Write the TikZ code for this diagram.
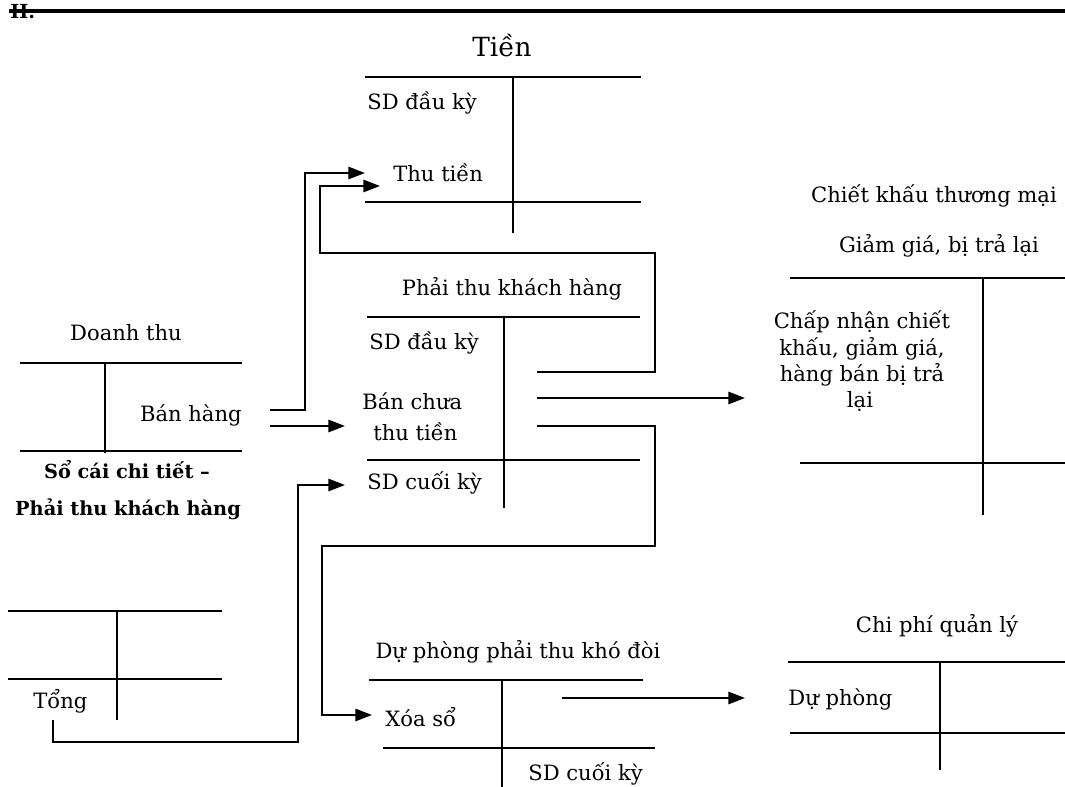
\documentclass[tikz,border=0pt]{standalone}
\usepackage{fontspec}
\setmainfont{DejaVu Serif}
\usetikzlibrary{arrows.meta}
\begin{document}
\begin{tikzpicture}[x=0.02cm,y=-0.02cm,
  acc/.style={line width=1.1pt},
  arr/.style={line width=1.1pt,-{Triangle[length=9.5pt,width=7pt]}},
  lbl/.style={inner sep=0pt,font=\fontsize{12}{14}\selectfont},
  ttl/.style={inner sep=0pt,font=\fontsize{15}{18}\selectfont},
  bld/.style={inner sep=0pt,font=\fontsize{11}{13}\selectfont\bfseries}]
\useasboundingbox (0,0) rectangle (1065,787);
% header
\node[bld,anchor=base west] (hdr) at (10,19) {II.};
\draw[line width=1.8pt] (9,11) -- (1065,11);
% ---- Tien
\node[ttl,anchor=base] (tien) at (502,57) {Tiền};
\draw[acc] (365,77) -- (641,77);
\draw[acc] (365,202) -- (641,202);
\draw[acc] (513,77) -- (513,233);
\node[lbl,anchor=base west] (tsd) at (367,110) {SD đầu kỳ};
\node[lbl,anchor=base west] (tthu) at (393,182) {Thu tiền};
% ---- Phai thu khach hang
\node[lbl,anchor=base] (ptkh) at (512,296) {Phải thu khách hàng};
\draw[acc] (367,317) -- (640,317);
\draw[acc] (367,460) -- (640,460);
\draw[acc] (504,317) -- (504,508);
\node[lbl,anchor=base west] (psd) at (369,349) {SD đầu kỳ};
\node[lbl,anchor=base west] (pban1) at (362,409) {Bán chưa};
\node[lbl,anchor=base west] (pban2) at (373,440) {thu tiền};
\node[lbl,anchor=base west] (pcuoi) at (367,489) {SD cuối kỳ};
% ---- Doanh thu
\node[lbl,anchor=base] (dt) at (126,340) {Doanh thu};
\draw[acc] (20,363) -- (242,363);
\draw[acc] (20,451) -- (242,451);
\draw[acc] (105,363) -- (105,453);
\node[lbl,anchor=base east] (dtbh) at (242,421) {Bán hàng};
\node[bld,anchor=base] (sc1) at (127,478) {Sổ cái chi tiết –};
\node[bld,anchor=base] (sc2) at (128,515) {Phải thu khách hàng};
% ---- So cai chi tiet ledger
\draw[acc] (8,611) -- (222,611);
\draw[acc] (8,679) -- (222,679);
\draw[acc] (117,611) -- (117,720);
\node[lbl,anchor=base west] (tong) at (33,708) {Tổng};
% ---- Chiet khau
\node[lbl,anchor=base] (ck) at (934,203) {Chiết khấu thương mại};
\node[lbl,anchor=base] (gg) at (939,253) {Giảm giá,\ bị trả lại};
\draw[acc] (790,278) -- (1065,278);
\draw[acc] (800,463) -- (1065,463);
\draw[acc] (983,278) -- (983,515);
\node[lbl,anchor=base] (cn1) at (862,328) {Chấp nhận chiết};
\node[lbl,anchor=base] (cn2) at (862,355) {khấu, giảm giá,};
\node[lbl,anchor=base] (cn3) at (862,381) {hàng bán bị trả};
\node[lbl,anchor=base] (cn4) at (860,407) {lại};
% ---- Du phong phai thu kho doi
\node[lbl,anchor=base] (dp) at (518,658) {Dự phòng phải thu khó đòi};
\draw[acc] (369,680) -- (643,680);
\draw[acc] (383,748) -- (655,748);
\draw[acc] (502,680) -- (502,787);
\node[lbl,anchor=base west] (xoa) at (385,726) {Xóa sổ};
\node[lbl,anchor=base west] (dpcuoi) at (528,780) {SD cuối kỳ};
% ---- Chi phi quan ly
\node[lbl,anchor=base] (cp) at (937,632) {Chi phí quản lý};
\draw[acc] (788,662) -- (1065,662);
\draw[acc] (790,733) -- (1065,733);
\draw[acc] (940,662) -- (940,770);
\node[lbl,anchor=base west] (cpdp) at (788,705) {Dự phòng};
% ---- connector end points
\coordinate (bh1) at (270,410);
\coordinate (bh2) at (270,426);
\coordinate (tin1) at (365,173);
\coordinate (tin2) at (380,186);
\coordinate (pbin) at (345,426);
\coordinate (pcin) at (345,485);
\coordinate (tongout) at (53,720);
\coordinate (pout1) at (537,372);
\coordinate (pout2) at (537,398);
\coordinate (pout3) at (537,426);
\coordinate (ckin) at (745,398);
\coordinate (xoain) at (372,715);
\coordinate (dpout) at (562,698);
\coordinate (cpin) at (745,698);
% ---- connectors
\draw[arr] (bh1) -| (305,173) -- (tin1);
\draw[arr] (bh2) -- (pbin);
\draw[arr] (tongout) |- (298,742) |- (pcin);
\draw[arr] (pout1) -| (655,253) -| (320,186) -- (tin2);
\draw[arr] (pout2) -- (ckin);
\draw[arr] (pout3) -| (655,546) -| (322,715) -- (xoain);
\draw[arr] (dpout) -- (cpin);
\end{tikzpicture}
\end{document}
